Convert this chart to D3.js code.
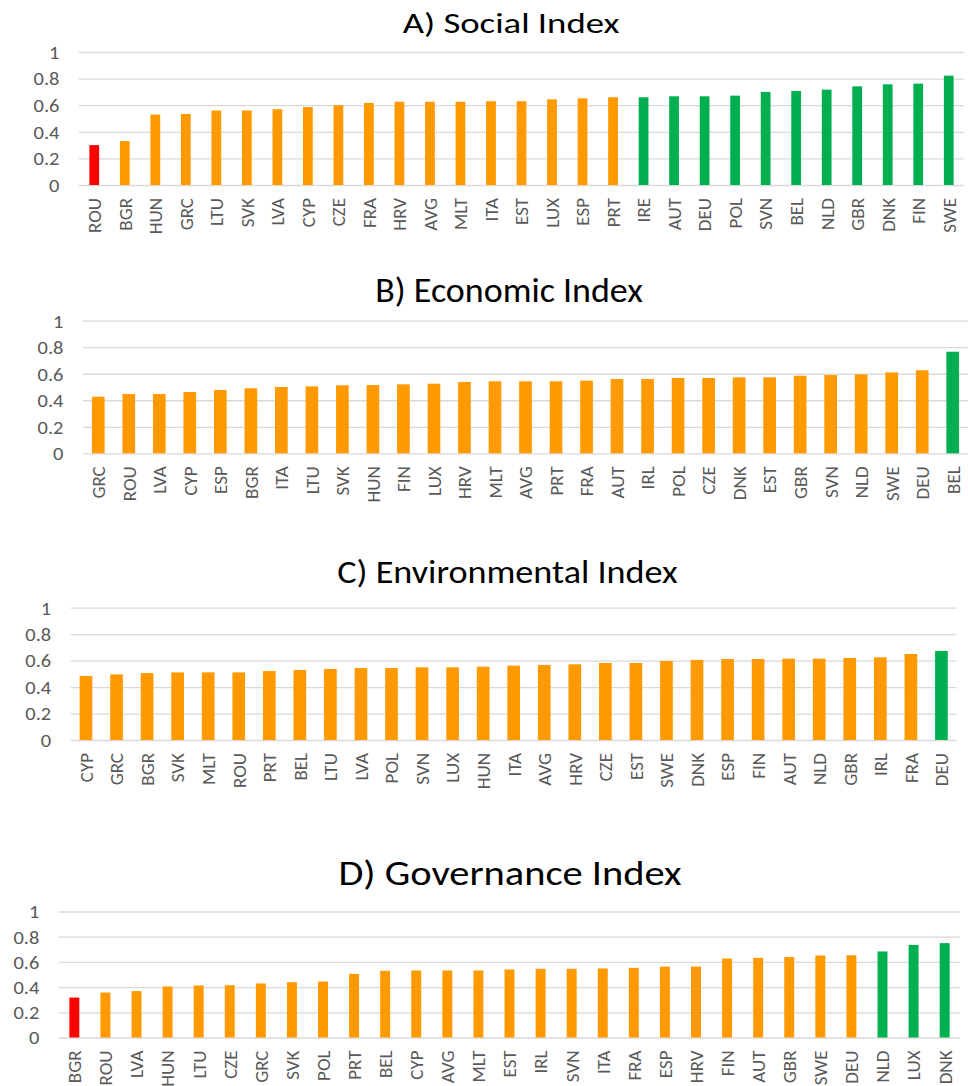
<!DOCTYPE html>
<html>
<head>
<meta charset="utf-8">
<script src="https://cdn.jsdelivr.net/npm/d3@7"></script>
<style>
  html, body { margin: 0; padding: 0; background: #fff; }
  svg { display: block; }
  text { font-family: Carlito, Lato, "Open Sans", sans-serif; }
</style>
</head>
<body>
<svg id="chart" width="968" height="1086"></svg>
<script>
// ---------- DATA ----------
const socialCountries = ["ROU","BGR","HUN","GRC","LTU","SVK","LVA","CYP","CZE","FRA","HRV","AVG","MLT","ITA","EST","LUX","ESP","PRT","IRE","AUT","DEU","POL","SVN","BEL","NLD","GBR","DNK","FIN","SWE"];
const socialValues = [0.30,0.33,0.53,0.534,0.56,0.56,0.57,0.586,0.60,0.617,0.626,0.626,0.626,0.63,0.63,0.644,0.652,0.66,0.66,0.667,0.667,0.672,0.70,0.707,0.717,0.742,0.757,0.762,0.822];
const socialTiers = ["low","mid","mid","mid","mid","mid","mid","mid","mid","mid","mid","mid","mid","mid","mid","mid","mid","mid","high","high","high","high","high","high","high","high","high","high","high"];

const economicCountries = ["GRC","ROU","LVA","CYP","ESP","BGR","ITA","LTU","SVK","HUN","FIN","LUX","HRV","MLT","AVG","PRT","FRA","AUT","IRL","POL","CZE","DNK","EST","GBR","SVN","NLD","SWE","DEU","BEL"];
const economicValues = [0.427,0.447,0.447,0.462,0.477,0.49,0.50,0.505,0.513,0.515,0.52,0.525,0.538,0.543,0.543,0.543,0.548,0.56,0.56,0.568,0.568,0.573,0.573,0.585,0.59,0.595,0.61,0.626,0.766];
const economicTiers = ["mid","mid","mid","mid","mid","mid","mid","mid","mid","mid","mid","mid","mid","mid","mid","mid","mid","mid","mid","mid","mid","mid","mid","mid","mid","mid","mid","mid","high"];

const environmentalCountries = ["CYP","GRC","BGR","SVK","MLT","ROU","PRT","BEL","LTU","LVA","POL","SVN","LUX","HUN","ITA","AVG","HRV","CZE","EST","SWE","DNK","ESP","FIN","AUT","NLD","GBR","IRL","FRA","DEU"];
const environmentalValues = [0.484,0.496,0.506,0.511,0.511,0.511,0.521,0.529,0.537,0.544,0.544,0.549,0.549,0.554,0.562,0.567,0.572,0.582,0.582,0.597,0.605,0.612,0.612,0.615,0.615,0.62,0.625,0.65,0.673];
const environmentalTiers = ["mid","mid","mid","mid","mid","mid","mid","mid","mid","mid","mid","mid","mid","mid","mid","mid","mid","mid","mid","mid","mid","mid","mid","mid","mid","mid","mid","mid","high"];

const governanceCountries = ["BGR","ROU","LVA","HUN","LTU","CZE","GRC","SVK","POL","PRT","BEL","CYP","AVG","MLT","EST","IRL","SVN","ITA","FRA","ESP","HRV","FIN","AUT","GBR","SWE","DEU","NLD","LUX","DNK"];
const governanceValues = [0.317,0.357,0.368,0.405,0.413,0.415,0.429,0.439,0.444,0.505,0.529,0.532,0.532,0.532,0.54,0.545,0.545,0.548,0.553,0.563,0.563,0.627,0.632,0.638,0.651,0.653,0.683,0.735,0.749];
const governanceTiers = ["low","mid","mid","mid","mid","mid","mid","mid","mid","mid","mid","mid","mid","mid","mid","mid","mid","mid","mid","mid","mid","mid","mid","mid","mid","mid","high","high","high"];

const panelTitles = ["A) Social Index","B) Economic Index","C) Environmental Index","D) Governance Index"];
const yTickValues = [0, 0.2, 0.4, 0.6, 0.8, 1];
const yTickLabels = ["0","0.2","0.4","0.6","0.8","1"];

// ---------- LAYOUT ----------
const tierColor = d3.scaleOrdinal().domain(["low","mid","high"]).range(["#FF0000","#FF9900","#00B050"]);

const panels = [
  {title: panelTitles[0], cats: socialCountries, vals: socialValues, tiers: socialTiers,
   left: 79, right: 964, top: 52, bottom: 185, titleX: 511, titleY: 33.3, titleSize: 29.5, titleSx: 1.245, pad: 0.68},
  {title: panelTitles[1], cats: economicCountries, vals: economicValues, tiers: economicTiers,
   left: 83, right: 968, top: 320.7, bottom: 453.3, titleX: 509, titleY: 302, titleSize: 34.6, titleSx: 1.04, pad: 0.585},
  {title: panelTitles[2], cats: environmentalCountries, vals: environmentalValues, tiers: environmentalTiers,
   left: 70.7, right: 956.7, top: 607.7, bottom: 740, titleX: 507.5, titleY: 582.7, titleSize: 32.6, titleSx: 1.11, pad: 0.585},
  {title: panelTitles[3], cats: governanceCountries, vals: governanceValues, tiers: governanceTiers,
   left: 58.8, right: 960.2, top: 911.5, bottom: 1037.5, titleX: 510, titleY: 884.5, titleSize: 34.6, titleSx: 1.17, pad: 0.68}
];

const svg = d3.select("#chart");

panels.forEach(p => {
  const g = svg.append("g");
  const x = d3.scaleBand().domain(p.cats).range([p.left, p.right])
    .paddingInner(p.pad).paddingOuter(p.pad / 2);
  const y = d3.scaleLinear().domain([0, 1]).range([p.bottom, p.top]);

  // title
  g.append("text")
    .attr("transform", `translate(${p.titleX},${p.titleY}) scale(${p.titleSx},1)`)
    .attr("text-anchor", "middle")
    .attr("font-size", p.titleSize)
    .attr("fill", "#000")
    .text(p.title);

  // y axis with gridlines
  const yAxis = d3.axisLeft(y)
    .tickValues(yTickValues)
    .tickFormat((d, i) => yTickLabels[i])
    .tickSize(-(p.right - p.left));
  const ya = g.append("g").attr("transform", `translate(${p.left},0)`).call(yAxis);
  ya.select(".domain").remove();
  ya.selectAll(".tick line").attr("stroke", "#D9D9D9").attr("stroke-width", 1.3);
  ya.selectAll(".tick text")
    .attr("fill", "#595959").attr("font-size", 17.5)
    .attr("font-family", "Carlito, Lato, sans-serif")
    .attr("x", 0).attr("dy", "0.36em")
    .attr("transform", "translate(-19.5,0) scale(1.17,1)");

  // bars
  g.selectAll("rect.bar").data(p.cats).join("rect")
    .attr("class", "bar")
    .attr("x", d => x(d))
    .attr("width", x.bandwidth())
    .attr("y", (d, i) => y(p.vals[i]))
    .attr("height", (d, i) => y(0) - y(p.vals[i]))
    .attr("fill", (d, i) => tierColor(p.tiers[i]));

  // x axis labels
  const xAxis = d3.axisBottom(x).tickSize(0).tickPadding(0);
  const xa = g.append("g").attr("transform", `translate(0,${p.bottom})`).call(xAxis);
  xa.select(".domain").remove();
  xa.selectAll(".tick text")
    .attr("fill", "#595959").attr("font-size", 19)
    .attr("font-family", "Carlito, Lato, sans-serif")
    .attr("transform", "rotate(-90)")
    .attr("text-anchor", "end")
    .attr("x", -13).attr("y", 0).attr("dy", "0.36em");
});
</script>
</body>
</html>
